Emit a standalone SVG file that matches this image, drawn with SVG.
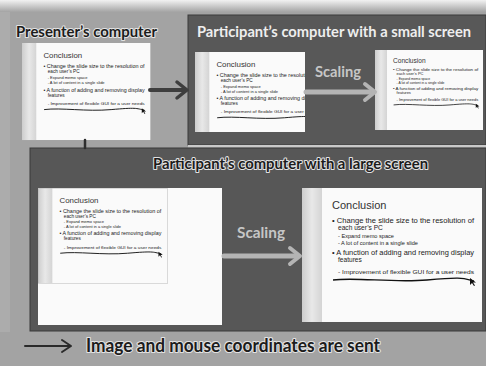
<svg xmlns="http://www.w3.org/2000/svg" width="486" height="366" viewBox="0 0 486 366">
<style>
.ttl{font-family:Lato,"Liberation Sans",Arial,sans-serif;font-weight:700}
.dk{fill:#1c1c1c;stroke:#e2e2e2;stroke-width:2.2px;paint-order:stroke;stroke-linejoin:round}
.lt{fill:#eeeeee}
.sc{fill:#c6c6c6;font-size:16px}
.sh{font-family:"Liberation Sans",Arial,sans-serif;fill:#222}
.h{font-size:11px;fill:#333}
.b{font-size:6.6px}
.s{font-size:5.6px}
.conn{fill:none;stroke-linecap:round;stroke-linejoin:round}
.panel{stroke:#3a3a3a;stroke-width:1}
</style>
<defs>
  <linearGradient id="strip" x1="0" x2="1" y1="0" y2="0">
    <stop offset="0" stop-color="#cdcdcd"/>
    <stop offset="0.5" stop-color="#e8e8e8"/>
    <stop offset="1" stop-color="#d4d4d4"/>
  </linearGradient>
  <linearGradient id="topband" x1="0" x2="0" y1="0" y2="1">
    <stop offset="0" stop-color="#f2f2f2"/>
    <stop offset="1" stop-color="#a4a4a4"/>
  </linearGradient>
  <clipPath id="clipS1"><rect x="0" y="0" width="154" height="112"/></clipPath>
  <g id="slide">
    <rect width="180" height="134" fill="#fafafa"/>
    <rect width="20" height="134" fill="url(#strip)"/>
    <text class="sh h" x="30" y="21">Conclusion</text>
    <text class="sh b" x="30" y="35" textLength="142" lengthAdjust="spacingAndGlyphs">• Change the slide size to the resolution of</text>
    <text class="sh b" x="36" y="42">each user’s PC</text>
    <text class="sh s" x="36" y="50">- Expand memo space</text>
    <text class="sh s" x="36" y="57">- A lot of content in a single slide</text>
    <text class="sh b" x="30" y="67" textLength="142" lengthAdjust="spacingAndGlyphs">• A function of adding and removing display</text>
    <text class="sh b" x="36" y="74">features</text>
    <text class="sh s" x="36" y="86" textLength="136" lengthAdjust="spacingAndGlyphs">- Improvement of flexible GUI for a user needs</text>
    <path d="M31 92 C 55 89, 90 95, 125 92 S 160 90, 172 93" stroke="#111" stroke-width="1.3" fill="none"/>
    <path d="M168 90 l0 7 l2 -2 l2 3 l1 -0.5 l-2 -3 l3 0 z" fill="#111"/>
  </g>
</defs>

<g id="background">
  <rect width="486" height="366" fill="#a3a3a3"/>
  <rect width="486" height="12" fill="url(#topband)"/>
  <rect x="0" y="12" width="10" height="320" fill="#b2b2b2" opacity="0.6"/>
</g>

<g id="small-screen">
  <rect class="panel" x="188" y="15" width="298" height="130" fill="#585858"/>
  <text class="ttl lt" x="197" y="37" font-size="15.5" textLength="274" lengthAdjust="spacingAndGlyphs">Participant’s computer with a small screen</text>
  <g transform="translate(195 52) scale(0.715)">
    <g clip-path="url(#clipS1)"><use href="#slide"/></g>
  </g>
  <use href="#slide" transform="translate(375 50) scale(0.6 0.597)"/>
  <text class="ttl sc" x="315" y="77" textLength="46" lengthAdjust="spacingAndGlyphs">Scaling</text>
</g>

<g id="presenter">
  <text class="ttl dk" x="16" y="37" font-size="16" textLength="141" lengthAdjust="spacingAndGlyphs">Presenter’s computer</text>
  <use href="#slide" transform="translate(22 43) scale(0.713 0.724)"/>
</g>

<rect x="188" y="145" width="298" height="2.5" fill="#c9c9c9"/>

<g id="large-screen">
  <rect class="panel" x="30" y="148" width="456" height="183" fill="#575757"/>
  <text class="ttl dk" x="153" y="169" font-size="16" textLength="275" lengthAdjust="spacingAndGlyphs">Participant’s computer with a large screen</text>
  <rect x="38" y="188" width="184" height="137" fill="#fafafa"/>
  <use href="#slide" transform="translate(38 188) scale(0.717 0.709)"/>
  <rect x="38.5" y="188.5" width="129" height="95" fill="none" stroke="#b8b8b8" stroke-dasharray="1 1"/>
  <use href="#slide" transform="translate(302 188)"/>
  <text class="ttl sc" x="237" y="238" textLength="48" lengthAdjust="spacingAndGlyphs">Scaling</text>
</g>

<g id="connectors">
  <path class="conn" d="M150 90 H185" stroke="#3e3e3e" stroke-width="4"/>
  <path class="conn" d="M177 82 L187 90 L177 98" stroke="#3e3e3e" stroke-width="3.5"/>
  <path class="conn" d="M85 140 V148" stroke="#2e2e2e" stroke-width="2.5"/>
  <path class="conn" d="M306 92 H372" stroke="#b4b4b4" stroke-width="5"/>
  <path class="conn" d="M365 84 L375 92 L365 100" stroke="#b4b4b4" stroke-width="4"/>
  <path class="conn" d="M224 256 H297" stroke="#b4b4b4" stroke-width="5"/>
  <path class="conn" d="M290 248 L300 256 L290 264" stroke="#b4b4b4" stroke-width="4"/>
</g>

<g id="legend">
  <path class="conn" d="M25 346 H70" stroke="#2a2a2a" stroke-width="2"/>
  <path class="conn" d="M62 340 L71 346 L62 352" stroke="#2a2a2a" stroke-width="2"/>
  <text class="ttl dk" x="86" y="352" font-size="18" textLength="294" lengthAdjust="spacingAndGlyphs">Image and mouse coordinates are sent</text>
</g>
</svg>
